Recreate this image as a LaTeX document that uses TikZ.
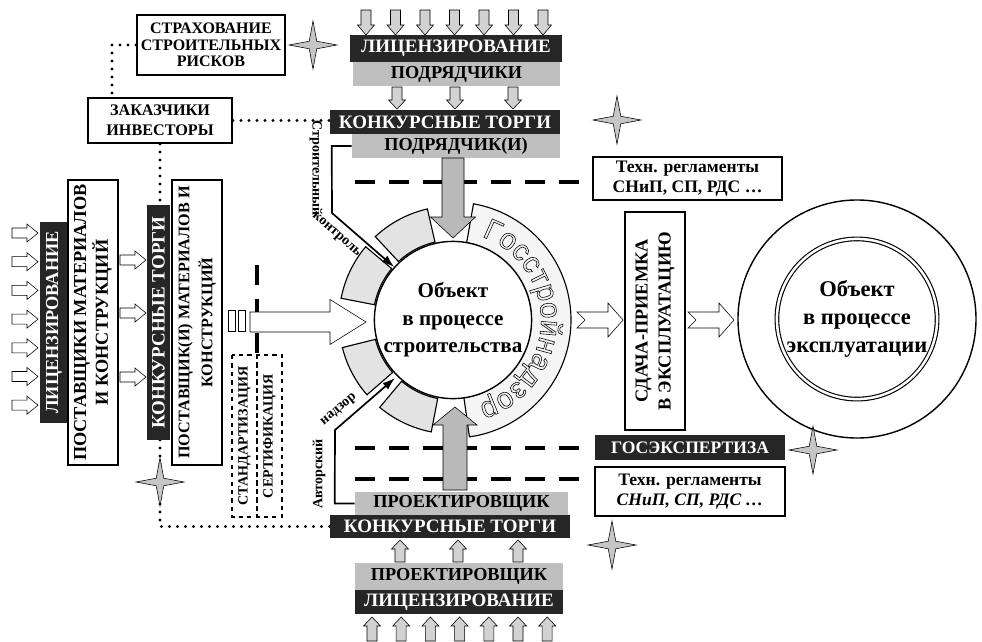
\documentclass[tikz,border=0pt]{standalone}
\usepackage{fontspec}
\setmainfont{Liberation Serif}
\newfontfamily\gossans{Liberation Sans}
\usetikzlibrary{shapes.geometric,arrows.meta,calc,decorations.text,backgrounds}
\newlength\pxu
\setlength\pxu{0.025cm}
\newcommand\fsz[2]{\fontsize{#1}{#2}\selectfont}
\newcommand\gosfmt{\gossans\fontsize{21}{21}\selectfont\special{pdf:literal direct 1 Tr}}

\tikzset{
  darkbar/.style={fill=black!85, text=white, inner sep=0pt, font=\bfseries\fsz{13.5}{13.5}},
  graybar/.style={fill=gray!50, text=black, inner sep=0pt, font=\bfseries\fsz{13}{13}},
  wbox/.style={draw, line width=1.4pt, fill=white, align=center, inner sep=1pt},
  dashbox/.style={draw, dashed, line width=1.2pt, inner sep=0pt, font=\bfseries\fsz{10}{10}},
  starnode/.style={star, star points=4, star point ratio=4.5, minimum size=48\pxu,
    inner sep=0pt, draw, fill=gray!45},
  seg/.style={draw, line width=0.8pt, fill=gray!22},
  dots/.style={line width=3.2\pxu, dash pattern=on 0pt off 8\pxu, line cap=round},
  thickdash/.style={line width=4\pxu, dash pattern=on 20\pxu off 14\pxu},
  ctl/.style={line width=1.2pt, -{Latex[length=9pt,width=6pt]}},
  lbl/.style={font=\bfseries\fsz{10}{10}, inner sep=0pt},
  pics/blk/.style n args={4}{code={
    \draw[pic actions] (-#1,0) -- (-#1,#3) -- (-#2,#3) -- (0,#4) -- (#2,#3) -- (#1,#3) -- (#1,0) -- cycle;}},
  pics/notch/.style={code={
    \draw[pic actions] (0,-8) -- (31,-8) -- (31,-17) -- (46,0) -- (31,17) -- (31,8) -- (0,8) -- (8,0) -- cycle;}},
}

\begin{document}
\begin{tikzpicture}[x=\pxu, y=-\pxu]
\useasboundingbox (0,0) rectangle (982,641);

% Верхний блок: подрядчики
\foreach \i in {0,...,6}
  \pic[draw, fill=gray!35] at ({366+29.5*\i},10) {blk={5}{8.5}{15}{25}};
\node[darkbar, minimum width=212\pxu, minimum height=27\pxu] (lic1) at (456,48.5) {ЛИЦЕНЗИРОВАНИЕ};
\node[graybar, minimum width=207\pxu, minimum height=24\pxu] (pod1) at (456.5,74) {ПОДРЯДЧИКИ};
\foreach \x in {397,455,513}
  \pic[draw, fill=gray!35] at (\x,87) {blk={5}{8.5}{13}{22}};
\node[darkbar, minimum width=230\pxu, minimum height=24\pxu] (kt1) at (445,122) {КОНКУРСНЫЕ ТОРГИ};
\node[graybar, minimum width=208\pxu, minimum height=24\pxu] (pod2) at (456,146) {ПОДРЯДЧИК(И)};

% Заказчики и страхование
\node[wbox, minimum width=148\pxu, minimum height=60\pxu, font=\bfseries\fsz{11.4}{11.8}] (strah) at (211,45) {СТРАХОВАНИЕ\\СТРОИТЕЛЬНЫХ\\РИСКОВ};
\node[wbox, minimum width=144\pxu, minimum height=45\pxu, font=\bfseries\fsz{11.5}{14}] (zak) at (160,120.5) {ЗАКАЗЧИКИ\\ИНВЕСТОРЫ};

% Левый блок: поставщики
\foreach \i in {0,...,6}
  \pic[draw, fill=white, rotate=90] at (12,{233+28.7*\i}) {blk={5}{9}{15}{26}};
\node[darkbar, rotate=90, minimum width=201\pxu, minimum height=28\pxu, font=\bfseries\fsz{13}{13}] (lic3) at (54,322.5) {ЛИЦЕНЗИРОВАНИЕ};
\node[wbox, rotate=90, minimum width=285\pxu, minimum height=50\pxu, font=\bfseries\fsz{13}{15.5}] (post1) at (93,322.5) {ПОСТАВЩИКИ МАТЕРИАЛОВ\\И КОНСТРУКЦИЙ};
\foreach \y in {260,313,377}
  \pic[draw, fill=white, rotate=90] at (120,\y) {blk={5}{9}{15}{26}};
\node[darkbar, rotate=90, minimum width=235\pxu, minimum height=23\pxu] (kt3) at (158.5,322.5) {КОНКУРСНЫЕ ТОРГИ};
\node[wbox, rotate=90, minimum width=285\pxu, minimum height=50\pxu, font=\bfseries\fsz{11.5}{16.5}] (post2) at (197,322.5) {ПОСТАВЩИК(И) МАТЕРИАЛОВ И\\КОНСТРУКЦИЙ};

% Стандартизация и сертификация
\node[draw, minimum width=7\pxu, minimum height=21\pxu, inner sep=0pt] (sr1) at (231.5,321) {};
\node[draw, minimum width=7\pxu, minimum height=21\pxu, inner sep=0pt] (sr2) at (241.5,321) {};
\node[dashbox, rotate=90, minimum width=162\pxu, minimum height=25\pxu] (stand) at (244.5,436) {СТАНДАРТИЗАЦИЯ};
\node[dashbox, rotate=90, minimum width=162\pxu, minimum height=25\pxu] (sert) at (269.5,436) {СЕРТИФИКАЦИЯ};

% Объект в процессе строительства
\coordinate (oc) at (453,320);
\foreach \a/\b in {103/133,140/169,194/221,230/259}
  \draw[seg] ($(oc)+(\a:80\pxu)$) arc[start angle=\a, end angle=\b, radius=80\pxu]
    -- ($(oc)+(\b:114\pxu)$) arc[start angle=\b, end angle=\a, radius=114\pxu] -- cycle;
\draw[seg, fill=gray!8] ($(oc)+(80:78\pxu)$) arc[start angle=80, end angle=-82, radius=78\pxu]
  -- ($(oc)+(-82:118\pxu)$) arc[start angle=-82, end angle=80, radius=118\pxu] -- cycle;
\node[circle, draw, line width=1pt, fill=white, minimum size=154\pxu, inner sep=0pt, align=center,
  font=\bfseries\fsz{15}{19.5}] (obj) at (oc) {Объект\\в процессе\\строительства};

% Входящие стрелки
\pic[draw, fill=gray!55] at (453,158) {blk={11}{22.5}{59}{80}};
\pic[draw, fill=gray!55, rotate=180] at (455,490) {blk={12}{22}{65}{83}};
\pic[draw, fill=white, rotate=90] at (250,322) {blk={10}{22.5}{80}{116}};

% Правый блок
\node[wbox, minimum width=189\pxu, minimum height=43\pxu, font=\bfseries\fsz{12.5}{14}] (tr1) at (687.5,178.5) {Техн. регламенты\\СНиП, СП, РДС …};
\node[wbox, rotate=90, minimum width=218\pxu, minimum height=60\pxu, font=\bfseries\fsz{13}{16.5}] (sdacha) at (655,321) {СДАЧА-ПРИЕМКА\\В ЭКСПЛУАТАЦИЮ};
\pic[draw, fill=white] at (577,320) {notch};
\pic[draw, fill=white] at (688,320) {notch};
\node[circle, draw, line width=1pt, minimum size=238\pxu] (obj2o) at (857,319) {};
\node[circle, draw, double, double distance=2.5\pxu, line width=0.8pt, minimum size=152\pxu, inner sep=0pt,
  align=center, font=\bfseries\fsz{16}{20}] (obj2) at (857,319) {Объект\\в процессе\\эксплуатации};
\node[darkbar, minimum width=190\pxu, minimum height=25\pxu, font=\bfseries\fsz{12.5}{12.5}] (gos) at (690,447.5) {ГОСЭКСПЕРТИЗА};
\node[wbox, minimum width=190\pxu, minimum height=49\pxu, font=\bfseries\fsz{12.5}{14}] (tr2) at (690,491.5) {Техн. регламенты\\\textit{СНиП, СП, РДС …}};

% Нижний блок: проектировщики
\node[graybar, minimum width=213\pxu, minimum height=23\pxu] (pr1) at (461.5,503.5) {ПРОЕКТИРОВЩИК};
\node[darkbar, minimum width=240\pxu, minimum height=23\pxu] (kt2) at (450,526.5) {КОНКУРСНЫЕ ТОРГИ};
\foreach \x in {400,458,518}
  \pic[draw, fill=gray!35, rotate=180] at (\x,562) {blk={5}{8.5}{13}{22}};
\node[graybar, minimum width=208\pxu, minimum height=27\pxu] (pr2) at (459,576.5) {ПРОЕКТИРОВЩИК};
\node[darkbar, minimum width=208\pxu, minimum height=24\pxu] (lic2) at (459,602) {ЛИЦЕНЗИРОВАНИЕ};
\foreach \i in {0,...,6}
  \pic[draw, fill=gray!35, rotate=180] at ({372+29.2*\i},641) {blk={5}{8.5}{15}{24}};

% Строительный контроль и авторский надзор
\coordinate (sk) at ($(oc)+(138:79\pxu)$);
\draw[ctl] (pod2.west) -- ++(-20,0) -- (332,213) -- (sk);
\node[lbl, rotate=-90] (lsk1) at (316,168) {Строительный};
\node[lbl, rotate=-41] (lsk2) at (336,235) {контроль};
\coordinate (an) at ($(oc)+(225:82\pxu)$);
\draw[ctl] (pr1.west) -- ++(-20,0) -- (335,430) -- (an);
\node[lbl, rotate=90] (lan1) at (319,474) {Авторский};
\node[lbl, rotate=40] (lan2) at (339,410) {надзор};

% Звёзды
\node[starnode] (st1) at (313,45) {};
\node[starnode] (st2) at (617,120) {};
\node[starnode] (st3) at (160,482) {};
\node[starnode] (st4) at (813,450) {};
\node[starnode] (st5) at (612,545) {};

% Пунктиры и штриховые линии (под блоками)
\begin{scope}[on background layer]
  \draw[dots] (strah.west) -| ($(zak.north)+(-48,0)$);
  \draw[dots] (zak.east) -- (zak.east -| kt1.west);
  \draw[dots] (zak.south) |- (kt2.west);
  \draw[thickdash] (355,182) -- (590,182);
  \draw[thickdash] (355,448) -- (592,448);
  \draw[thickdash] (355,479) -- (592,479);
  \draw[thickdash] (257,265) -- (257,355);
\end{scope}

% Госстройнадзор по дуге
\path[decorate, decoration={text along path, text align=center,
  text={|\gosfmt|Госстройнадзор}}]
  ($(oc)+(78:88\pxu)$) arc[start angle=78, end angle=-80, radius=88\pxu];

\end{tikzpicture}
\end{document}
